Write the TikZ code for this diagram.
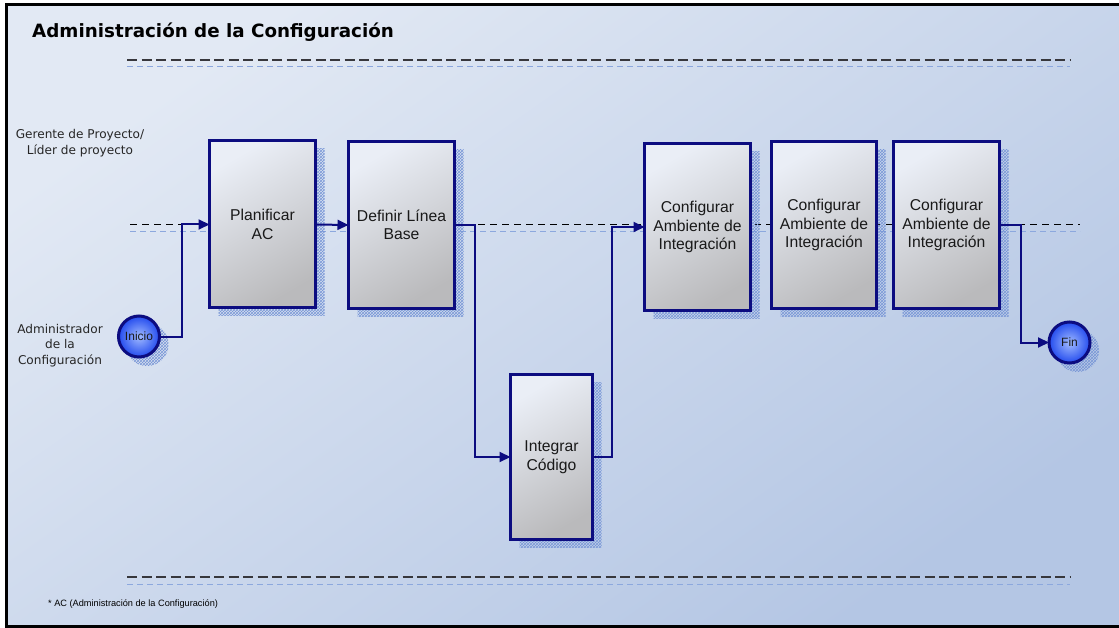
\documentclass[tikz,border=0pt]{standalone}
\usepackage{fontspec}
\setmainfont{Liberation Sans}
\newfontfamily\lanefont{DejaVu Sans}
\usetikzlibrary{arrows.meta,patterns,shadings}

\definecolor{navy}{RGB}{12,12,128}
\definecolor{bgA}{RGB}{226,233,244}
\definecolor{bgB}{RGB}{180,198,228}
\definecolor{boxA}{RGB}{234,238,246}
\definecolor{boxB}{RGB}{186,186,188}
\definecolor{ballA}{RGB}{160,186,255}
\definecolor{ballB}{RGB}{35,75,238}
\definecolor{shadowblue}{RGB}{120,150,215}
\definecolor{laneline}{RGB}{55,55,60}
\definecolor{laneshadow}{RGB}{140,168,222}

\tikzset{
  procbox/.style={draw=navy, line width=3pt, inner sep=2pt, outer sep=0pt,
    minimum width=106pt, minimum height=167pt, align=center,
    top color=boxA, bottom color=boxB, shading angle=30,
    font=\fontsize{15.7}{18.5}\selectfont, text=black!90},
  terminal/.style={circle, draw=navy, line width=3pt, inner sep=0pt, outer sep=0pt,
    minimum size=41pt, inner color=ballA, outer color=ballB,
    font=\fontsize{12}{14}\selectfont, text=black!90},
  flow/.style={draw=navy, line width=2pt, -{Triangle[length=11pt,width=10pt]}},
  hatch/.style={pattern=crosshatch, pattern color=shadowblue},
  lanedash/.style={laneline, line width=1.6pt, dash pattern=on 10pt off 4.5pt},
  laneshade/.style={laneshadow, line width=1pt, dash pattern=on 6pt off 4pt},
  swimlabel/.style={align=center, font=\lanefont\fontsize{12.1}{15.5}\selectfont, text=black!85},
}

\begin{document}
\begin{tikzpicture}[x=1pt,y=-1pt]
  \useasboundingbox (0,0) rectangle (1119,628);
  \fill[white] (0,0) rectangle (1119,628);
  % panel background
  \shade[top color=bgA, bottom color=bgB, shading angle=35] (6.5,5) rectangle (1119,626.5);
  \draw[black, line width=3pt] (1119,5) -- (6.5,5) -- (6.5,626.5) -- (1119,626.5);

  % title
  \node[anchor=base west, inner sep=0pt, font=\lanefont\bfseries\fontsize{18.3}{22}\selectfont]
    (title) at (32,38) {Administración de la Configuración};

  % lane separators
  \coordinate (topL) at (127,60);  \coordinate (topR) at (1070,60);
  \coordinate (topLs) at (127,66.5); \coordinate (topRs) at (1070,66.5);
  \coordinate (midL) at (130,225); \coordinate (midR) at (1080,225);
  \coordinate (midLs) at (130,232); \coordinate (midRs) at (1080,232);
  \coordinate (botL) at (127,577); \coordinate (botR) at (1070,577);
  \coordinate (botLs) at (127,584); \coordinate (botRs) at (1070,584);
  \draw[laneshade] (topLs) -- (topRs);
  \draw[lanedash] (topL) -- (topR);
  \draw[laneshade] (botLs) -- (botRs);
  \draw[lanedash] (botL) -- (botR);
  \draw[laneshade] (midLs) -- (midRs);
  \draw[black, line width=1pt, dash pattern=on 7pt off 5pt] (midL) -- (midR);

  % lane labels
  \node[swimlabel] (lane1) at (80,143) {Gerente de Proyecto/\\Líder de proyecto};
  \node[swimlabel] (lane2) at (60,345.5) {Administrador\\de la\\Configuración};

  % drop shadows
  \foreach \x/\y/\w/\h in {262.5/224.5/106/167, 401.5/225/106/167, 551.5/457/82/165,
                           697.5/227/106/167, 824/225/105/167, 946.5/225/106/167}{
    \fill[hatch] (\x-\w/2+9,\y-\h/2+8) rectangle (\x+\w/2+9,\y+\h/2+8);
  }
  \fill[hatch] (139+8,336.5+8) circle (21.5);
  \fill[hatch] (1069.5+8,342.5+8) circle (21.5);

  % activities
  \node[procbox] (plan) at (262.5,224.5) {Planificar\\AC};
  \node[procbox] (base) at (401.5,225) {Definir Línea\\Base};
  \node[procbox, minimum width=82pt, minimum height=165pt] (code) at (551.5,457) {Integrar\\Código};
  \node[procbox] (amb1) at (697.5,227) {Configurar\\Ambiente de\\Integración};
  \node[procbox, minimum width=105pt] (amb2) at (824,225) {Configurar\\Ambiente de\\Integración};
  \node[procbox] (amb3) at (946.5,225) {Configurar\\Ambiente de\\Integración};

  % start and end
  \node[terminal] (ini) at (139,336.5) {Inicio};
  \node[terminal] (fin) at (1069.5,342.5) {Fin};

  % flow
  \draw[flow] (ini.east) -- ++(22,0) |- (plan.west);
  \draw[flow] (plan.east) -- (base.west);
  \draw[flow] (base.east) -- ++(20,0) |- (code.west);
  \draw[flow] (code.east) -- ++(19,0) |- (amb1.west);
  \draw[flow] (amb3.east) -- ++(21,0) |- (fin.west);

  % footnote
  \node[anchor=west, inner sep=0pt, font=\fontsize{9.2}{11}\selectfont] (note) at (48,604)
    {* AC (Administración de la Configuración)};
\end{tikzpicture}
\end{document}
